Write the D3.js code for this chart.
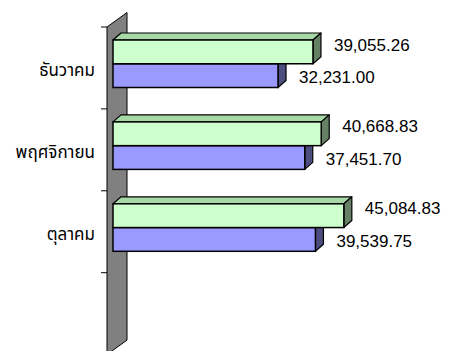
<!DOCTYPE html>
<html>
<head>
<meta charset="utf-8">
<script src="https://cdn.jsdelivr.net/npm/d3@7"></script>
<style>
  html, body { margin: 0; padding: 0; background: #fff; }
  svg { display: block; }
</style>
</head>
<body>
<svg id="chart" width="457" height="351"></svg>
<script>
// ---- data ----
const categories = ["ธันวาคม", "พฤศจิกายน", "ตุลาคม", ""];
const seriesNames = ["s1", "s2"];
const series1 = [39055.26, 40668.83, 45084.83, null];   // light green
const series2 = [32231.00, 37451.70, 39539.75, null];   // blue
const xDomainMax = 50000;

// ---- styles ----
const colors = {
  s1: { front: "#CCFFCC", top: "#A6D9A6", side: "#668066" },
  s2: { front: "#9999FF", top: "#7373BF", side: "#4D4D80" }
};
const numFont = "Arial, 'Liberation Sans', sans-serif";
const thaiFont = "Tahoma, 'Noto Sans Thai', 'Noto Sans', 'DejaVu Sans', sans-serif";

const svg = d3.select("#chart");

// ---- scales ----
const x = d3.scaleLinear().domain([0, xDomainMax]).range([113, 369]);
const y = d3.scaleBand().domain(categories).range([27, 354.6]).padding(0);
const ySub = d3.scaleBand().domain(seriesNames).range([13, 60.5]).padding(0);

const wallX = 107, wallDX = 20, wallDY = -14.5;
const barDX = 8, barDY = -7;

// ---- wall ----
const yTop = y.range()[0], yBot = y.range()[1];
svg.append("polygon")
  .attr("points", [
    [wallX, yTop], [wallX + wallDX, yTop + wallDY],
    [wallX + wallDX, yBot + wallDY], [wallX, yBot]
  ].map(p => p.join(",")).join(" "))
  .attr("fill", "#808080")
  .attr("stroke", "#000")
  .attr("stroke-width", 1);

// ---- ticks at band boundaries ----
const tickYs = categories.map(c => y(c)).concat([yBot]);
svg.append("g").selectAll("line").data(tickYs).join("line")
  .attr("x1", wallX - 6).attr("x2", wallX)
  .attr("y1", d => d).attr("y2", d => d)
  .attr("stroke", "#000").attr("stroke-width", 1);

// ---- bars ----
const rows = [];
categories.forEach((c, i) => {
  // draw blue (s2) first so green (s1) covers it
  if (series2[i] != null) rows.push({ cat: c, key: "s2", v: series2[i] });
  if (series1[i] != null) rows.push({ cat: c, key: "s1", v: series1[i] });
});

function pts(arr) { return arr.map(p => p.join(",")).join(" "); }

const barG = svg.append("g");
rows.forEach(r => {
  const x0 = x(0), x1 = x(r.v);
  const y0 = y(r.cat) + ySub(r.key);
  const y1 = y0 + ySub.bandwidth();
  const col = colors[r.key];
  const g = barG.append("g");
  // top face
  g.append("polygon")
    .attr("points", pts([[x0, y0], [x0 + barDX, y0 + barDY], [x1 + barDX, y0 + barDY], [x1, y0]]))
    .attr("fill", col.top).attr("stroke", "#000").attr("stroke-width", 1.2).attr("stroke-linejoin", "round");
  // side face
  g.append("polygon")
    .attr("points", pts([[x1, y0], [x1 + barDX, y0 + barDY], [x1 + barDX, y1 + barDY], [x1, y1]]))
    .attr("fill", col.side).attr("stroke", "#000").attr("stroke-width", 1.2).attr("stroke-linejoin", "round");
  // front face
  g.append("rect")
    .attr("x", x0).attr("y", y0)
    .attr("width", x1 - x0).attr("height", y1 - y0)
    .attr("fill", col.front).attr("stroke", "#000").attr("stroke-width", 1.5);
});

// ---- value labels ----
const fmt = d3.format(",.2f");
const labelBase = { s1: 10.5, s2: 19.5 };
svg.append("g").selectAll("text").data(rows).join("text")
  .attr("x", d => x(d.v) + barDX + 13)
  .attr("y", d => y(d.cat) + ySub(d.key) + labelBase[d.key])
  .attr("font-family", numFont)
  .attr("font-size", 17)
  .attr("fill", "#000")
  .text(d => fmt(d.v));

// ---- category labels ----
svg.append("g").selectAll("text").data(categories.filter(c => c !== "")).join("text")
  .attr("x", 95)
  .attr("y", d => y(d) + y.bandwidth() / 2 + 8)
  .attr("text-anchor", "end")
  .attr("font-family", thaiFont)
  .attr("font-size", 17)
  .attr("fill", "#000")
  .text(d => d);
</script>
</body>
</html>
